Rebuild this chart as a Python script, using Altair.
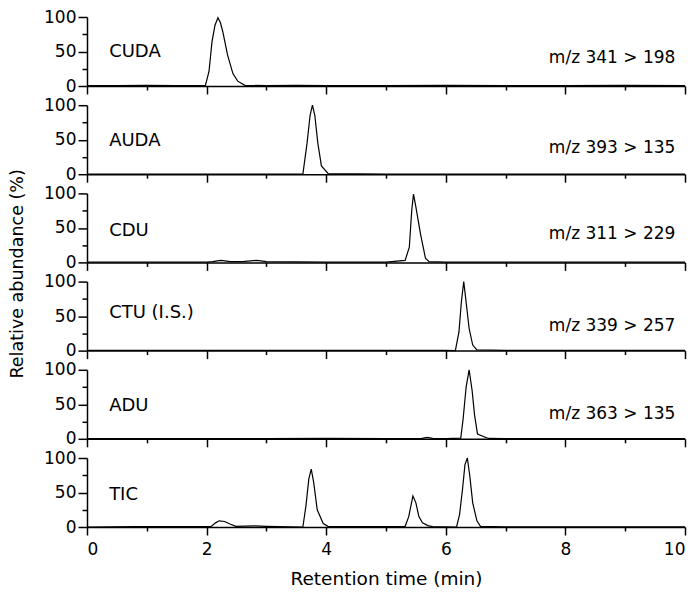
import altair as alt
import pandas as pd

FONT = "DejaVu Sans"

names = ["CUDA", "AUDA", "CDU", "CTU (I.S.)", "ADU", "TIC"]
transitions = ["m/z 341 > 198", "m/z 393 > 135", "m/z 311 > 229", "m/z 339 > 257", "m/z 363 > 135", ""]
name_y = [49, 48, 45, 54, 48, 46]
mz_y = [41, 38, 41, 35, 36, 0]
name_x = 0.37
mz_x = 9.84

cuda_t = [0, 0.5, 1.0, 1.5, 1.98, 2.04, 2.09, 2.14, 2.19, 2.23, 2.27, 2.35, 2.44, 2.52, 2.64, 3.0, 3.5, 4.0, 5.0, 6.0, 7.0, 8.0, 9.0, 10.0]
cuda_v = [0.5, 0.5, 1, 0.5, 1, 21, 64, 88, 99, 92, 79, 45, 18, 7, 1, 0.5, 1, 0.5, 0.5, 1, 0.5, 0.5, 1, 0.5]

auda_t = [0, 1, 2, 3, 3.5, 3.61, 3.68, 3.73, 3.77, 3.81, 3.86, 3.92, 4.03, 5, 6, 7, 8, 9, 10]
auda_v = [0.3, 0.3, 0.3, 0.3, 0.3, 0, 45, 85, 100, 85, 45, 12, 1, 0.3, 0.3, 0.3, 0.3, 0.3, 0.3]

cdu_t = [0, 1, 2, 2.1, 2.24, 2.4, 2.6, 2.84, 3.0, 4, 5, 5.32, 5.39, 5.43, 5.46, 5.5, 5.58, 5.66, 5.72, 6, 7, 8, 9, 10]
cdu_v = [0.3, 0.3, 0.5, 1, 3, 1, 1, 3, 1, 0.5, 0.5, 3, 22, 75, 99, 80, 40, 6, 1, 0.5, 0.3, 0.3, 0.3, 0.3]

ctu_t = [0, 1, 2, 3, 4, 5, 6, 6.16, 6.22, 6.26, 6.30, 6.34, 6.39, 6.45, 6.52, 7, 8, 9, 10]
ctu_v = [0.3, 0.3, 0.3, 0.3, 0.3, 0.3, 0.3, 0, 27, 70, 100, 70, 32, 8, 1, 0.3, 0.3, 0.3, 0.3]

adu_t = [0, 1, 2, 3, 4, 5, 5.6, 5.69, 5.78, 6, 6.25, 6.29, 6.34, 6.39, 6.44, 6.48, 6.53, 6.71, 7, 8, 9, 10]
adu_v = [0.3, 0.3, 0.3, 0.3, 0.5, 0.3, 0.5, 2, 0.5, 0.3, 1, 29, 75, 100, 70, 35, 7, 0.5, 0.3, 0.3, 0.3, 0.3]

tic_t = [0, 0.8, 1.0, 1.5, 2.07, 2.15, 2.21, 2.3, 2.4, 2.49, 2.8, 3.0, 3.61, 3.66, 3.71, 3.75, 3.79, 3.85, 3.95, 4.03,
         5.0, 5.32, 5.38, 5.45, 5.5, 5.55, 5.61, 5.7, 5.78, 6.18, 6.23, 6.28, 6.32, 6.36, 6.40, 6.45, 6.52, 6.58, 7, 8, 9, 10]
tic_v = [0, 0.5, 0.5, 0.5, 0.5, 6, 9, 8, 4, 1, 1.5, 1, 0, 30, 70, 84, 65, 25, 5, 1,
         0.5, 1, 15, 45, 35, 15, 6, 2, 0.5, 0, 18, 55, 90, 100, 75, 35, 9, 1, 0.3, 0.3, 0.3, 0.3]

traces = [(cuda_t, cuda_v), (auda_t, auda_v), (cdu_t, cdu_v), (ctu_t, ctu_v), (adu_t, adu_v), (tic_t, tic_v)]

W, H = 598, 69


def panel(i):
    t, v = traces[i]
    df = pd.DataFrame({"t": t, "v": v})
    last = i == len(traces) - 1
    xaxis = dict(
        values=list(range(0, 11)),
        format="d",
        grid=False,
        domain=True,
        ticks=True,
        domainColor="black",
        domainWidth=1.5,
        tickColor="black",
        tickWidth=1.5,
        tickSize={"condition": {"test": "datum.value % 2 === 0", "value": 8}, "value": 4},
        labelFont=FONT,
        labelFontSize=17,
        labelColor="black",
        labelPadding=6,
        labelOverlap=False,
        titleFont=FONT,
        titleFontSize=18.5,
        titleFontWeight="normal",
        titleColor="black",
        titlePadding=12,
    )
    if last:
        xaxis.update(labels=True, labelExpr="datum.value % 2 === 0 ? datum.label : ''",
                     title="Retention time (min)")
    else:
        xaxis.update(labels=False, title=None)
    yaxis = dict(
        values=[0, 25, 50, 75, 100],
        format="d",
        grid=False,
        domain=True,
        ticks=True,
        domainColor="black",
        domainWidth=1.5,
        tickColor="black",
        tickWidth=1.5,
        tickSize={"condition": {"test": "datum.value % 50 === 0", "value": 9}, "value": 5},
        labelExpr="datum.value % 50 === 0 ? datum.label : ''",
        labelFont=FONT,
        labelFontSize=17,
        labelColor="black",
        labelPadding=2,
        labelOverlap=False,
        titleFont=FONT,
        titleFontSize=17.5,
        titleFontWeight="normal",
        titleColor="black",
    )
    if i == 2:
        yaxis.update(title="Relative abundance (%)", titleY=80, titlePadding=17)
    else:
        yaxis.update(title=None)

    x = alt.X("t:Q", scale=alt.Scale(domain=[0, 10], nice=False), axis=alt.Axis(**xaxis))
    y = alt.Y("v:Q", scale=alt.Scale(domain=[0, 100], nice=False), axis=alt.Axis(**yaxis))
    line = alt.Chart(df).mark_line(color="black", strokeWidth=1.2).encode(x=x, y=y)

    lab = pd.DataFrame({"t": [name_x], "v": [name_y[i]], "s": [names[i]]})
    name_txt = alt.Chart(lab).mark_text(align="left", baseline="middle", font=FONT, fontSize=18,
                                        color="black").encode(x=x, y=y, text="s:N")
    layers = [line, name_txt]
    if transitions[i]:
        mz = pd.DataFrame({"t": [mz_x], "v": [mz_y[i]], "s": [transitions[i]]})
        mz_txt = alt.Chart(mz).mark_text(align="right", baseline="middle", font=FONT, fontSize=17,
                                         color="black").encode(x=x, y=y, text="s:N")
        layers.append(mz_txt)
    return alt.layer(*layers).properties(width=W, height=H)


chart = alt.vconcat(*[panel(i) for i in range(len(traces))], spacing=19.2, bounds="flush").configure_view(
    stroke=None
).properties(padding={"left": 0, "top": 0, "right": 0, "bottom": 0}, background="white")

chart.save("out.html", embed_options={"renderer": "svg", "actions": False})
